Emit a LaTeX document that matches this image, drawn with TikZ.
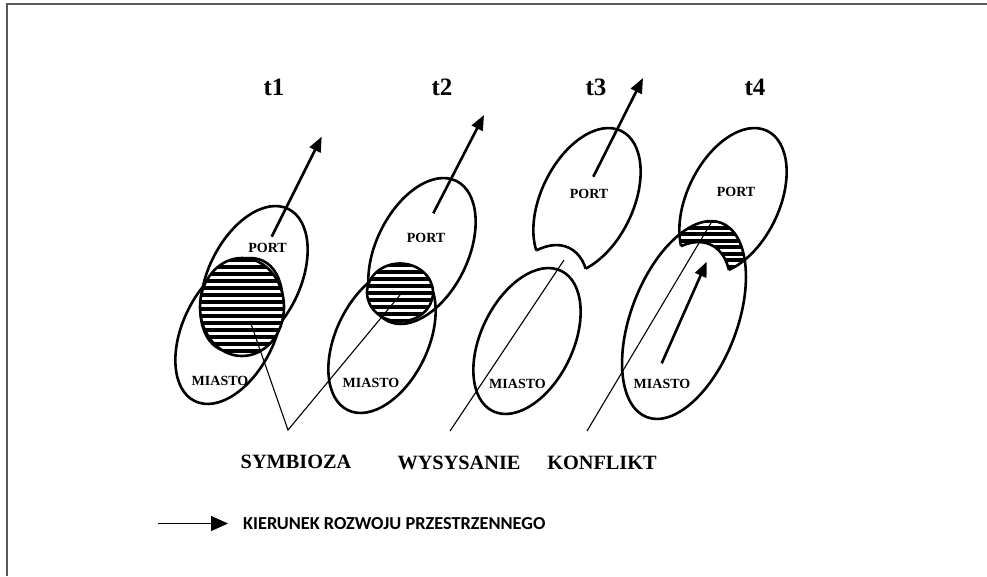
\documentclass[tikz,border=0pt]{standalone}
\usepackage{fontspec}
\setmainfont{Liberation Serif}
\newfontfamily\legendfont{Carlito}
\usetikzlibrary{arrows.meta}
\begin{document}
\begin{tikzpicture}[x=1pt,y=-1pt,
  shp/.style={line width=2.6pt},
  pshape/.style={x radius=78,y radius=46,rotate=64},
  mbig/.style={x radius=104,y radius=53,rotate=69},
  lbl/.style={font=\fontsize{14}{14}\selectfont\bfseries, inner sep=0pt},
  tl/.style={font=\fontsize{25}{25}\selectfont\bfseries, inner sep=0pt},
  caption/.style={font=\fontsize{20.3}{20.3}\selectfont\bfseries, inner sep=0pt},
  dir/.style={line width=2.6pt, -{Triangle[length=15pt,width=12pt]}},
  lead/.style={line width=1.1pt},
  stripe/.style={fill=black}
  ]
\useasboundingbox (0,0) rectangle (987,576);
% frame
\draw[black!65, line width=1.5pt] (7,576) -- (7,4) -- (987,4);

% centres
\coordinate (P1) at (254,279);
\coordinate (M1) at (229,331);
\coordinate (H1) at (242,307);
\coordinate (P2) at (422,251);
\coordinate (M2) at (382,340);
\coordinate (H2) at (400,292.5);
\coordinate (P3) at (587,201);
\coordinate (M3) at (527,341);
\coordinate (B3) at (535,318);
\coordinate (P4) at (733,201);
\coordinate (M4) at (684,320);
\coordinate (B4) at (677,315);

% ---------- t1 ----------
\draw[shp] (P1) circle[pshape];
\draw[shp] (M1) circle[pshape];
\begin{scope}
  \clip (H1) circle[x radius=42, y radius=49];
  \fill[white] (H1) circle[x radius=42, y radius=49];
  \foreach \k in {0,...,14} \fill[stripe] (195,258+7*\k) rectangle ++(95,4.2);
\end{scope}
\draw[shp] (H1) circle[x radius=42, y radius=49];

% ---------- t2 ----------
\draw[shp] (P2) circle[pshape];
\draw[shp] (M2) circle[pshape];
\begin{scope}
  \clip (H2) circle[x radius=33, y radius=29];
  \fill[white] (H2) circle[x radius=33, y radius=29];
  \foreach \k in {0,...,9} \fill[stripe] (360,263+7*\k) rectangle ++(80,4.2);
\end{scope}
\draw[shp] (H2) circle[x radius=33, y radius=29];

% ---------- t3 ----------
\draw[shp] (P3) circle[pshape];
\fill[white] (B3) circle[pshape];
\begin{scope}
  \clip (P3) circle[pshape];
  \draw[shp] (B3) circle[pshape];
\end{scope}
\draw[shp] (M3) circle[pshape];

% ---------- t4 ----------
\draw[shp] (P4) circle[pshape];
\begin{scope}
  \clip (P4) circle[pshape];
  \clip (M4) circle[mbig];
  \foreach \k in {0,...,8} \fill[stripe] (665,219+6.5*\k) rectangle ++(90,4);
\end{scope}
\begin{scope}
  \clip (M4) circle[mbig];
  \fill[white] (B4) circle[pshape];
\end{scope}
\begin{scope}
  \clip (P4) circle[pshape];
  \draw[shp] (B4) circle[pshape];
\end{scope}
\draw[shp] (M4) circle[mbig];

% ---------- arrows ----------
\coordinate (a1s) at (271.7,236.7); \coordinate (a1e) at (321.7,136.7);
\coordinate (a2s) at (433.3,213.3); \coordinate (a2e) at (484,115);
\coordinate (a3s) at (593.3,176.7); \coordinate (a3e) at (643,78);
\coordinate (a4s) at (661.7,363.3); \coordinate (a4e) at (706.7,261.7);
\draw[dir] (a1s) -- (a1e);
\draw[dir] (a2s) -- (a2e);
\draw[dir] (a3s) -- (a3e);
\draw[dir] (a4s) -- (a4e);

% ---------- labels ----------
\node[tl] (t1) at (274,87) {t1};
\node[tl] (t2) at (442,87) {t2};
\node[tl] (t3) at (596,87) {t3};
\node[tl] (t4) at (755,87) {t4};

\node[lbl] (port1) at (267.5,248) {PORT};
\node[lbl] (port2) at (426,238) {PORT};
\node[lbl] (port3) at (589,194) {PORT};
\node[lbl] (port4) at (736,192) {PORT};
\node[lbl] (mia1) at (220,381) {MIASTO};
\node[lbl] (mia2) at (371,382.5) {MIASTO};
\node[lbl] (mia3) at (517.5,384) {MIASTO};
\node[lbl] (mia4) at (662,384) {MIASTO};

\node[caption] (sym) at (296,462) {SYMBIOZA};
\node[caption] (wys) at (459,463) {WYSYSANIE};
\node[caption] (kon) at (602,463) {KONFLIKT};

% ---------- leaders ----------
\coordinate (L1) at (250,321);
\coordinate (L2) at (400,295);
\coordinate (V1) at (288,430);
\coordinate (L3) at (564,260);
\coordinate (V3) at (450,431);
\coordinate (L4) at (711.7,221.7);
\coordinate (V4) at (587,431);
\draw[lead] (L1) -- (V1) -- (L2);
\draw[lead] (L3) -- (V3);
\draw[lead] (L4) -- (V4);

% ---------- legend ----------
\coordinate (la) at (158,523.5);
\coordinate (lb) at (228,523.5);
\draw[line width=1.2pt, -{Triangle[length=17pt,width=15pt]}] (la) -- (lb);
\node[anchor=west, inner sep=0pt, font=\legendfont\bfseries\fontsize{18.3}{18.3}\selectfont] (leg) at (243,523.5) {KIERUNEK ROZWOJU PRZESTRZENNEGO};
\end{tikzpicture}
\end{document}
